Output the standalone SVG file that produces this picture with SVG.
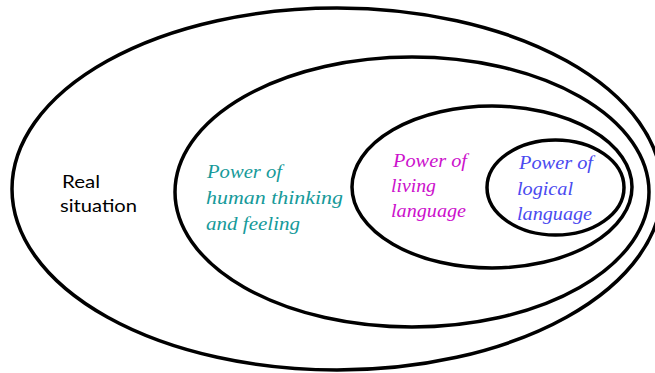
<svg xmlns="http://www.w3.org/2000/svg" width="655" height="373" viewBox="0 0 655 373">
<style>
.e{fill:none;stroke:#000;stroke-width:3.5}
.lbl{font-family:Lato,"Liberation Sans",sans-serif;font-size:18px;fill:#000}
.m{font-family:"Liberation Serif","DejaVu Serif",serif;font-style:italic;font-size:18px}
.teal{fill:#169a9a}
.mag{fill:#cc11cc}
.blu{fill:#4a4af0}
</style>
<rect width="655" height="373" fill="#fff"/>
<g id="real">
<ellipse class="e" cx="337" cy="189" rx="325" ry="181"/>
<text class="lbl" x="62" y="188" textLength="38" lengthAdjust="spacingAndGlyphs">Real</text>
<text class="lbl" x="60" y="212" textLength="77" lengthAdjust="spacingAndGlyphs">situation</text>
</g>
<g id="human">
<ellipse class="e" cx="412" cy="192" rx="237" ry="135"/>
<text class="m teal" x="207" y="178" textLength="75" lengthAdjust="spacingAndGlyphs">Power of</text>
<text class="m teal" x="206" y="204" textLength="137" lengthAdjust="spacingAndGlyphs">human thinking</text>
<text class="m teal" x="206" y="230" textLength="94" lengthAdjust="spacingAndGlyphs">and feeling</text>
</g>
<g id="living">
<ellipse class="e" cx="492" cy="187" rx="140" ry="81"/>
<text class="m mag" x="393" y="167" textLength="74" lengthAdjust="spacingAndGlyphs">Power of</text>
<text class="m mag" x="391" y="192" textLength="45" lengthAdjust="spacingAndGlyphs">living</text>
<text class="m mag" x="391" y="217" textLength="75" lengthAdjust="spacingAndGlyphs">language</text>
</g>
<g id="logical">
<ellipse class="e" cx="555.5" cy="187.5" rx="68.5" ry="47.5"/>
<text class="m blu" x="519" y="169" textLength="74" lengthAdjust="spacingAndGlyphs">Power of</text>
<text class="m blu" x="517" y="195" textLength="56" lengthAdjust="spacingAndGlyphs">logical</text>
<text class="m blu" x="517" y="220" textLength="75" lengthAdjust="spacingAndGlyphs">language</text>
</g>
<g id="connectors"/>
</svg>
